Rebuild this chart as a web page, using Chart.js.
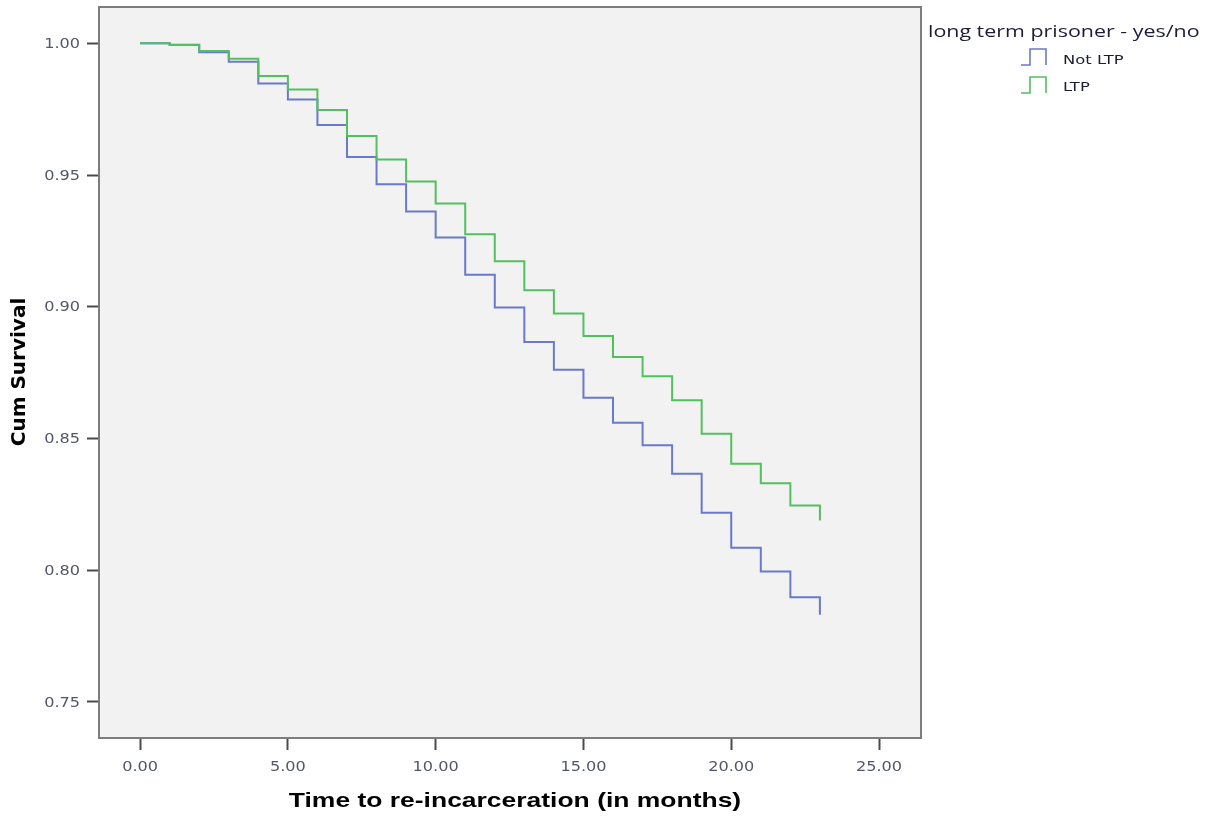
<!DOCTYPE html>
<html lang="en">
<head>
    <meta charset="UTF-8">
    <title>Survival by LTP status</title>
    <script src="https://cdn.jsdelivr.net/npm/chart.js"></script>
    <style>
        body {
            margin: 0;
            background: #ffffff;
        }
        #wrap {
            width: 1212px;
            height: 819px;
        }
    </style>
</head>
<body>
    <div id="wrap">
        <canvas id="survChart" width="1212" height="819"></canvas>
    </div>

    <script>
        // months since release
        const months = [0, 1, 2, 3, 4, 5, 6, 7, 8, 9, 10, 11, 12, 13, 14, 15, 16, 17, 18, 19, 20, 21, 22, 23];

        // cumulative survival, Kaplan-Meier estimates
        const notLtp = [1.0000, 0.9995, 0.9966, 0.9930, 0.9848, 0.9787, 0.9690, 0.9569, 0.9465, 0.9362,
                        0.9263, 0.9122, 0.8997, 0.8866, 0.8761, 0.8655, 0.8560, 0.8474, 0.8366, 0.8218,
                        0.8085, 0.7995, 0.7897, 0.7831];
        const ltp    = [1.0000, 0.9994, 0.9971, 0.9942, 0.9876, 0.9825, 0.9747, 0.9648, 0.9559, 0.9476,
                        0.9392, 0.9275, 0.9173, 0.9063, 0.8974, 0.8889, 0.8809, 0.8736, 0.8645, 0.8518,
                        0.8404, 0.8330, 0.8246, 0.8189];

        const groupLabels = ['Not LTP', 'LTP'];
        const legendTitle = 'long term prisoner - yes/no';
        const xTitle = 'Time to re-incarceration (in months)';
        const yTitle = 'Cum Survival';
        const xTicks = [0, 5, 10, 15, 20, 25];
        const yTicks = [0.75, 0.80, 0.85, 0.90, 0.95, 1.00];

        const blue = '#6a7aca';
        const green = '#52c05e';
        const WIDE = 1.26;   // text is drawn a bit wider than the font

        function toPoints(xs, ys) {
            return xs.map((x, i) => ({ x: x, y: ys[i] }));
        }

        function wideText(ctx, text, x, y, align, sx) {
            ctx.save();
            ctx.translate(x, y);
            ctx.scale(sx, 1);
            ctx.textAlign = align;
            ctx.fillText(text, 0, 0);
            ctx.restore();
        }

        // grey plot panel with a frame, drawn under the lines
        const panelPlugin = {
            id: 'panel',
            beforeDatasetsDraw(chart) {
                const { ctx, chartArea: a } = chart;
                ctx.save();
                ctx.fillStyle = '#f2f2f2';
                ctx.fillRect(a.left, a.top, a.right - a.left, a.bottom - a.top);
                ctx.restore();
            },
            afterDatasetsDraw(chart) {
                const { ctx, chartArea: a } = chart;
                ctx.save();
                ctx.strokeStyle = '#7d7d7d';
                ctx.lineWidth = 2;
                ctx.strokeRect(a.left, a.top, a.right - a.left, a.bottom - a.top);
                ctx.restore();
            }
        };

        // tick labels and axis titles
        const axisText = {
            id: 'axisText',
            afterDraw(chart) {
                const ctx = chart.ctx;
                const xs = chart.scales.x, ys = chart.scales.y;
                ctx.save();
                ctx.fillStyle = '#525868';
                ctx.font = '14px "DejaVu Sans", sans-serif';
                ctx.textBaseline = 'middle';
                yTicks.forEach(v => {
                    wideText(ctx, v.toFixed(2), 80, ys.getPixelForValue(v) + 1, 'right', 1.15);
                });
                xTicks.forEach(v => {
                    wideText(ctx, v.toFixed(2), xs.getPixelForValue(v), 767, 'center', 1.15);
                });

                ctx.fillStyle = '#000000';
                ctx.textBaseline = 'alphabetic';
                ctx.font = 'bold 21px "Liberation Sans", sans-serif';
                wideText(ctx, xTitle, 515, 807, 'center', WIDE);

                ctx.font = 'bold 20px "DejaVu Sans", sans-serif';
                ctx.translate(25, 372);
                ctx.rotate(-Math.PI / 2);
                ctx.textAlign = 'center';
                ctx.fillText(yTitle, 0, 0);
                ctx.restore();
            }
        };

        // legend with little step icons
        const stepLegend = {
            id: 'stepLegend',
            afterDraw(chart) {
                const ctx = chart.ctx;
                const colors = [blue, green];
                ctx.save();
                ctx.fillStyle = '#1c1c3a';
                ctx.font = '17px "Open Sans", sans-serif';
                ctx.textBaseline = 'alphabetic';
                wideText(ctx, legendTitle, 928, 37, 'left', WIDE);

                ctx.font = '13px "DejaVu Sans", sans-serif';
                groupLabels.forEach((label, i) => {
                    const top = 49 + i * 28;
                    const bottom = top + 16;
                    ctx.strokeStyle = colors[i];
                    ctx.lineWidth = 1.6;
                    ctx.beginPath();
                    ctx.moveTo(1021, bottom);
                    ctx.lineTo(1030, bottom);
                    ctx.lineTo(1030, top);
                    ctx.lineTo(1046, top);
                    ctx.lineTo(1046, bottom);
                    ctx.stroke();
                    ctx.fillStyle = '#1c1c3a';
                    wideText(ctx, label, 1063, 64 + i * 27, 'left', WIDE);
                });
                ctx.restore();
            }
        };

        const ctx = document.getElementById('survChart').getContext('2d');
        new Chart(ctx, {
            type: 'line',
            data: {
                datasets: [{
                    label: groupLabels[0],
                    data: toPoints(months, notLtp),
                    borderColor: blue,
                    borderWidth: 2,
                    stepped: 'before',
                    pointRadius: 0,
                    fill: false,
                    order: 1
                }, {
                    label: groupLabels[1],
                    data: toPoints(months, ltp),
                    borderColor: green,
                    borderWidth: 2,
                    stepped: 'before',
                    pointRadius: 0,
                    fill: false,
                    order: 0
                }]
            },
            options: {
                responsive: false,
                animation: false,
                layout: {
                    padding: { left: 0, top: 7, right: 291, bottom: 0 }
                },
                plugins: {
                    legend: { display: false },
                    tooltip: { enabled: false }
                },
                scales: {
                    x: {
                        type: 'linear',
                        min: -1.39,
                        max: 26.42,
                        afterFit: s => { s.height = 81; },
                        afterBuildTicks: s => { s.ticks = xTicks.map(v => ({ value: v })); },
                        border: { display: false },
                        grid: {
                            drawOnChartArea: false,
                            tickLength: 12,
                            tickWidth: 2,
                            tickColor: '#4a4a4a'
                        },
                        ticks: { display: false }
                    },
                    y: {
                        type: 'linear',
                        min: 0.7363,
                        max: 1.0138,
                        afterFit: s => { s.width = 99; },
                        afterBuildTicks: s => { s.ticks = yTicks.map(v => ({ value: v })); },
                        border: { display: false },
                        grid: {
                            drawOnChartArea: false,
                            tickLength: 12,
                            tickWidth: 2,
                            tickColor: '#4a4a4a'
                        },
                        ticks: { display: false }
                    }
                }
            },
            plugins: [panelPlugin, axisText, stepLegend]
        });
    </script>
</body>
</html>
